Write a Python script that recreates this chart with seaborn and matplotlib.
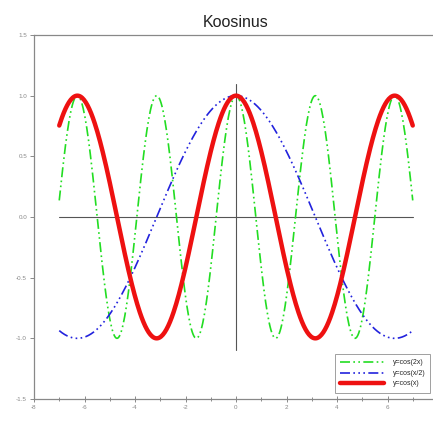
import numpy as np
import pandas as pd
import matplotlib
matplotlib.use("Agg")
import matplotlib.pyplot as plt
import seaborn as sns

sns.set_style("white")
plt.rcParams['font.family'] = ['Liberation Sans', 'DejaVu Sans']

# Data: the three functions named in the legend, sampled on [-7, 7]
x_vals = np.linspace(-7, 7, 400)
labels = ["y=cos(2x)", "y=cos(x/2)", "y=cos(x)"]
y_cos2x = np.cos(2 * x_vals)
y_cosx2 = np.cos(x_vals / 2)
y_cosx = np.cos(x_vals)
xticks = [-8, -6, -4, -2, 0, 2, 4, 6]
yticks = [-1.5, -1.0, -0.5, 0.0, 0.5, 1.0, 1.5]

df = pd.DataFrame({
    "x": np.concatenate([x_vals] * 3),
    "y": np.concatenate([y_cos2x, y_cosx2, y_cosx]),
    "f": np.repeat(labels, len(x_vals)),
})

fig = plt.figure(figsize=(4.33, 4.21), dpi=100)
ax = fig.add_axes([34 / 433, 22 / 421, 404 / 433, 364 / 421])

styles = {
    "y=cos(2x)": dict(color="#22dd22", lw=1.2, dashes=(6, 2, 1, 2, 1, 2)),
    "y=cos(x/2)": dict(color="#2222dd", lw=1.2, dashes=(6, 2, 1, 2, 1, 2, 1, 2)),
    "y=cos(x)": dict(color="#ee1111", lw=3.2, dashes=None),
}
for lab in labels:
    st = styles[lab]
    sub = df[df["f"] == lab]
    sns.lineplot(data=sub, x="x", y="y", ax=ax, color=st["color"],
                 linewidth=st["lw"], label=lab, zorder=3)
    if st["dashes"]:
        ax.lines[-1].set_dashes(st["dashes"])

# center axis lines
ax.plot([0, 0], [-1.1, 1.1], color="#555555", lw=0.8, zorder=2)
ax.plot([-7, 7], [0, 0], color="#555555", lw=0.8, zorder=2)

ax.set_xlim(-8, 8)
ax.set_ylim(-1.5, 1.5)
ax.set_xticks(xticks)
ax.set_yticks(yticks)
ax.set_xticks([-7, -5, -3, -1, 1, 3, 5, 7], minor=True)
ax.set_xticklabels([str(t) for t in xticks])
ax.set_yticklabels([f"{t:.1f}" for t in yticks])
ax.set_xlabel("")
ax.set_ylabel("")
ax.tick_params(axis="both", which="major", labelsize=4.5, colors="#777777",
               labelcolor="#888888", length=3, width=0.6, pad=2, bottom=True, left=True)
ax.tick_params(axis="x", which="major", direction="inout", length=5)
ax.tick_params(axis="x", which="minor", direction="inout", length=3, width=0.6,
               colors="#777777", bottom=True)
ax.tick_params(axis="y", direction="out")
for s in ["left", "top", "bottom", "right"]:
    ax.spines[s].set_color("#888888")
    ax.spines[s].set_linewidth(0.9)

ax.set_title("Koosinus", fontsize=11.5, color="#222222", pad=6)

leg = ax.legend(loc="lower right", bbox_to_anchor=(0.99, 0.008), fontsize=5,
                frameon=True, fancybox=False, edgecolor="#888888",
                handlelength=6.4, borderpad=0.75, labelspacing=0.5,
                handletextpad=1.2)
leg.get_frame().set_linewidth(0.7)

fig.savefig("out.png", dpi=100)
